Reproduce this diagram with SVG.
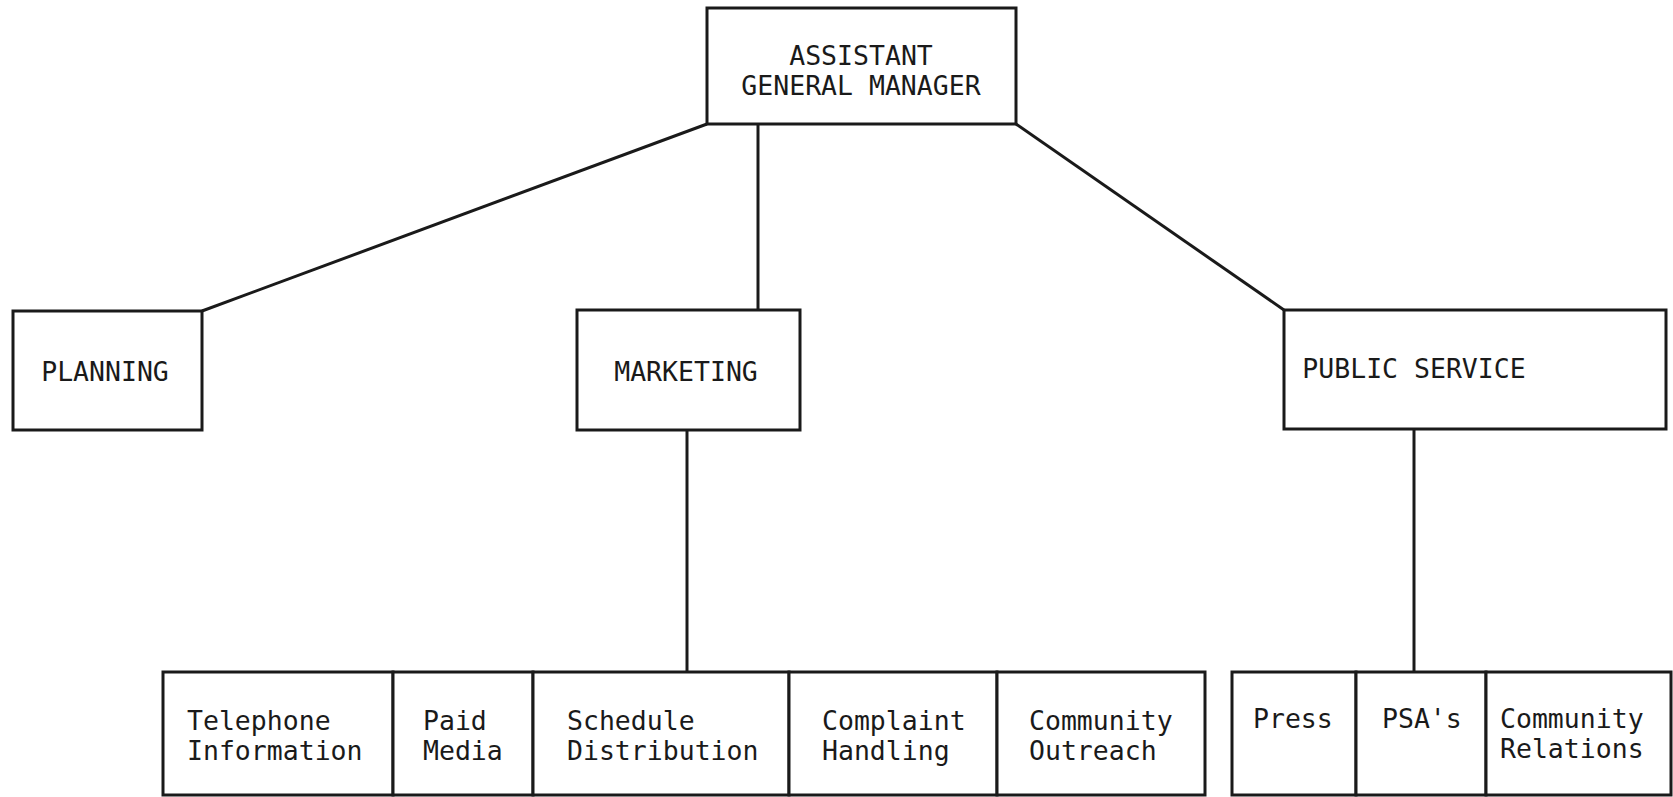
<svg xmlns="http://www.w3.org/2000/svg" width="1673" height="797" viewBox="0 0 1673 797">
<style>
.box{fill:#fff;stroke:#1a1a1a;stroke-width:3}
.ln{fill:none;stroke:#1a1a1a;stroke-width:3}
text{font-family:"DejaVu Sans Mono","Liberation Mono",monospace;font-size:26.5px;fill:#1a1a1a}
.c{text-anchor:middle}
</style>
<rect width="1673" height="797" fill="#fff"/>
<g id="connectors">
<line class="ln" x1="707" y1="124" x2="202" y2="311"/>
<line class="ln" x1="758" y1="124" x2="758" y2="310"/>
<line class="ln" x1="1016" y1="124" x2="1284" y2="310"/>
<line class="ln" x1="687" y1="430" x2="687" y2="672"/>
<line class="ln" x1="1414" y1="429" x2="1414" y2="672"/>
</g>
<g id="agm">
<rect class="box" x="707" y="8" width="309" height="116"/>
<text class="c" x="861" y="65">ASSISTANT</text>
<text class="c" x="861" y="95">GENERAL MANAGER</text>
</g>
<g id="planning">
<rect class="box" x="13" y="311" width="189" height="119"/>
<text class="c" x="105" y="381">PLANNING</text>
</g>
<g id="marketing">
<rect class="box" x="577" y="310" width="223" height="120"/>
<text class="c" x="686" y="381">MARKETING</text>
</g>
<g id="public-service">
<rect class="box" x="1284" y="310" width="382" height="119"/>
<text class="c" x="1414" y="378">PUBLIC SERVICE</text>
</g>
<g id="telephone-information">
<rect class="box" x="163" y="672" width="230" height="123"/>
<text x="187" y="730">Telephone</text>
<text x="187" y="760">Information</text>
</g>
<g id="paid-media">
<rect class="box" x="393" y="672" width="140" height="123"/>
<text x="423" y="730">Paid</text>
<text x="423" y="760">Media</text>
</g>
<g id="schedule-distribution">
<rect class="box" x="533" y="672" width="256" height="123"/>
<text x="567" y="730">Schedule</text>
<text x="567" y="760">Distribution</text>
</g>
<g id="complaint-handling">
<rect class="box" x="789" y="672" width="208" height="123"/>
<text x="822" y="730">Complaint</text>
<text x="822" y="760">Handling</text>
</g>
<g id="community-outreach">
<rect class="box" x="997" y="672" width="208" height="123"/>
<text x="1029" y="730">Community</text>
<text x="1029" y="760">Outreach</text>
</g>
<g id="press">
<rect class="box" x="1232" y="672" width="124" height="123"/>
<text x="1253" y="728">Press</text>
</g>
<g id="psas">
<rect class="box" x="1356" y="672" width="130" height="123"/>
<text x="1382" y="728">PSA's</text>
</g>
<g id="community-relations">
<rect class="box" x="1486" y="672" width="185" height="123"/>
<text x="1500" y="728">Community</text>
<text x="1500" y="758">Relations</text>
</g>
</svg>
